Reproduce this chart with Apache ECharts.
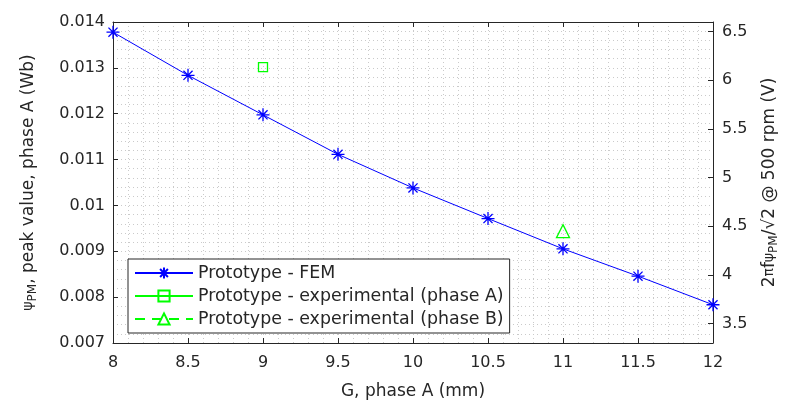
<!DOCTYPE html>
<html>
<head>
<meta charset="utf-8">
<script src="https://cdn.jsdelivr.net/npm/echarts@6/dist/echarts.min.js"></script>
<style>
  html, body { margin: 0; padding: 0; background: #fff; }
  #chart { width: 788px; height: 405px; }
</style>
</head>
<body>
<div id="chart"></div>
<script>
// gap G (mm)
const gapValues = [8, 8.5, 9, 9.5, 10, 10.5, 11, 11.5, 12];
// FEM flux linkage peak (Wb)
const femFlux = [0.013778, 0.012837, 0.011975, 0.011114, 0.010382, 0.009714, 0.009053, 0.008458, 0.007834];
// experimental points
const expGapA = [9];
const expFluxA = [0.013016];
const expGapB = [11];
const expFluxB = [0.00944];

// right axis = 2*pi*f*psi/sqrt(2) at 500 rpm
const voltFactor = 471.24;
const fluxMin = 0.007;
const fluxMax = 0.014;

const font = 'DejaVu Sans';
const ink = '#262626';

const chart = echarts.init(document.getElementById('chart'));

const gridDots = { color: '#cacaca', width: 1, type: [1, 3] };

const option = {
  animation: false,
  backgroundColor: '#fff',
  textStyle: { fontFamily: font },
  grid: { left: 113, right: 72, top: 22, bottom: 58 },
  legend: {
    orient: 'vertical',
    left: 128,
    top: 259,
    padding: [4, 6, 4, 6],
    itemGap: 3,
    itemWidth: 58,
    itemHeight: 14,
    backgroundColor: '#fff',
    borderColor: ink,
    borderWidth: 1,
    borderRadius: 0,
    textStyle: { fontFamily: font, fontSize: 17.4, color: ink, lineHeight: 20 },
    data: ['Prototype - FEM', 'Prototype - experimental (phase A)', 'Prototype - experimental (phase B)']
  },
  xAxis: [
    {
      type: 'value',
      min: 8,
      max: 12,
      interval: 0.5,
      name: 'G, phase A (mm)',
      nameLocation: 'middle',
      nameGap: 40,
      nameTextStyle: { fontFamily: font, fontSize: 17, color: ink },
      axisLine: { show: true, onZero: false, lineStyle: { color: ink, width: 1 } },
      axisTick: { show: true, inside: true, length: 5, lineStyle: { color: ink } },
      axisLabel: { fontFamily: font, fontSize: 16, color: ink, margin: 12 },
      splitLine: { show: true, lineStyle: gridDots },
      minorTick: { show: false, splitNumber: 5 },
      minorSplitLine: { show: true, lineStyle: gridDots }
    },
    {
      type: 'value',
      position: 'top',
      min: 8,
      max: 12,
      interval: 0.5,
      axisLine: { show: true, onZero: false, lineStyle: { color: ink, width: 1 } },
      axisTick: { show: true, inside: true, length: 5, lineStyle: { color: ink } },
      axisLabel: { show: false },
      splitLine: { show: false }
    }
  ],
  yAxis: [
    {
      type: 'value',
      position: 'left',
      min: fluxMin,
      max: fluxMax,
      interval: 0.001,
      name: '{g|ψ}{s|PM}, peak value, phase A (Wb)',
      nameLocation: 'middle',
      nameGap: 74,
      nameTextStyle: {
        fontFamily: font, fontSize: 17, color: ink,
        rich: {
          g: { fontFamily: font, fontSize: 14, color: ink },
          s: { fontFamily: font, fontSize: 12, color: ink, padding: [9, 0, 0, 0] }
        }
      },
      axisLine: { show: true, onZero: false, lineStyle: { color: ink, width: 1 } },
      axisTick: { show: true, inside: true, length: 5, lineStyle: { color: ink } },
      axisLabel: { fontFamily: font, fontSize: 16, color: ink, margin: 8 },
      splitLine: { show: true, lineStyle: gridDots },
      minorTick: { show: false, splitNumber: 5 },
      minorSplitLine: { show: true, lineStyle: gridDots }
    },
    {
      type: 'value',
      position: 'right',
      min: fluxMin * voltFactor,
      max: fluxMax * voltFactor,
      name: '{n|2}{g|π}{n|f}{g|ψ}{s|PM}{n|/√2 @ 500 rpm (V)}',
      nameLocation: 'middle',
      nameGap: 46,
      nameTextStyle: {
        fontFamily: font, fontSize: 17, color: ink,
        rich: {
          n: { fontFamily: font, fontSize: 17, color: ink },
          g: { fontFamily: font, fontSize: 14, color: ink },
          s: { fontFamily: font, fontSize: 12, color: ink, padding: [9, 0, 0, 0] }
        }
      },
      axisLine: { show: true, onZero: false, lineStyle: { color: ink, width: 1 } },
      axisTick: { show: true, inside: true, length: 5, lineStyle: { color: ink } },
      axisLabel: { fontFamily: font, fontSize: 16, color: ink, margin: 9, showMinLabel: false, showMaxLabel: false },
      splitLine: { show: false }
    }
  ],
  series: [
    {
      name: 'Prototype - FEM',
      type: 'line',
      xAxisIndex: 0,
      yAxisIndex: 0,
      data: gapValues.map((g, i) => [g, femFlux[i]]),
      symbol: 'path://M0,-1L0,1M-1,0L1,0M-0.7,-0.7L0.7,0.7M-0.7,0.7L0.7,-0.7',
      symbolSize: 13,
      showAllSymbol: true,
      lineStyle: { color: '#0000ff', width: 1 },
      itemStyle: { color: '#0000ff', borderColor: '#0000ff', borderWidth: 1.3 },
      z: 3
    },
    {
      name: 'Prototype - experimental (phase A)',
      type: 'line',
      xAxisIndex: 0,
      yAxisIndex: 0,
      data: expGapA.map((g, i) => [g, expFluxA[i]]),
      symbol: 'rect',
      symbolSize: 9,
      lineStyle: { color: '#00ff00', width: 1 },
      itemStyle: { color: 'rgba(255,255,255,0)', borderColor: '#00ff00', borderWidth: 1.3 },
      z: 4
    },
    {
      name: 'Prototype - experimental (phase B)',
      type: 'line',
      xAxisIndex: 0,
      yAxisIndex: 0,
      data: expGapB.map((g, i) => [g, expFluxB[i]]),
      symbol: 'triangle',
      symbolSize: 13,
      lineStyle: { color: '#00ff00', width: 1, type: [10, 7] },
      itemStyle: { color: 'rgba(255,255,255,0)', borderColor: '#00ff00', borderWidth: 1.3 },
      z: 4
    }
  ]
};

chart.setOption(option);
</script>
</body>
</html>
